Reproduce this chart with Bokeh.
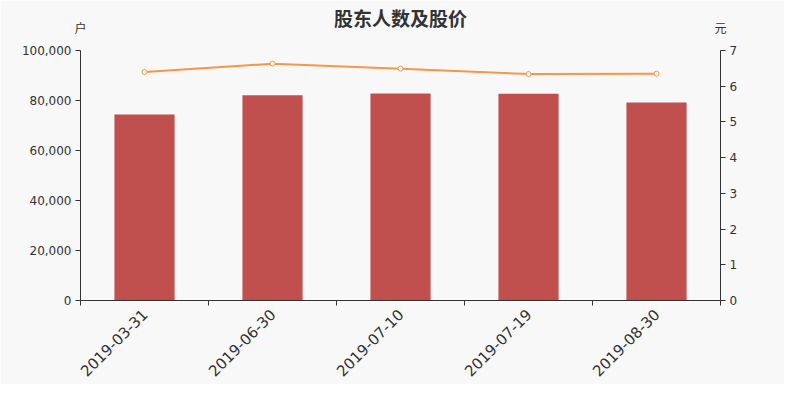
import math
from bokeh.plotting import figure
from bokeh.models import (Range1d, LinearAxis, FixedTicker, NumeralTickFormatter,
                          ColumnDataSource)
from bokeh.embed import file_html
from bokeh.resources import INLINE

dates = ["2019-03-31", "2019-06-30", "2019-07-10", "2019-07-19", "2019-08-30"]
holders = [74400, 82100, 82800, 82700, 79200]
prices = [6.40, 6.63, 6.49, 6.34, 6.35]

title_text = "股东人数及股价"
left_name = "户"
right_name = "元"

BG = "#f8f8f8"
AX = "#333333"
BAR = "#c0504d"
LINE = "#f79646"

xs = [i + 0.5 for i in range(len(dates))]
src = ColumnDataSource(dict(x=xs, holders=holders, prices=prices, date=dates))

p = figure(frame_width=640, frame_height=250, output_backend="svg", toolbar_location=None,
           x_range=Range1d(0, len(dates)), y_range=Range1d(0, 100000),
           min_border_left=80, min_border_right=64, min_border_top=50,
           min_border_bottom=84, background_fill_color=BG,
           border_fill_color=BG, x_axis_location=None, y_axis_location=None)
p.outline_line_color = None
p.grid.visible = False
p.extra_y_ranges = {"price": Range1d(0, 7)}

# top axis: axis names "户" / "元" at the ends, chart title as its label
names = LinearAxis(ticker=FixedTicker(ticks=[0, len(dates)]), axis_label=title_text)
names.major_label_overrides = {0: left_name, len(dates): right_name}
names.major_label_text_font = "Noto Sans CJK SC"
names.major_label_text_font_size = "12px"
names.major_label_text_color = AX
names.axis_line_color = None
names.major_tick_line_color = None
names.minor_tick_line_color = None
names.major_label_standoff = 9
names.axis_label_standoff = -15
names.axis_label_text_font = "Noto Sans CJK SC"
names.axis_label_text_font_size = "19px"
names.axis_label_text_font_style = "bold"
names.axis_label_text_color = AX
p.add_layout(names, "above")

# bottom axis: labels at centres, ticks at category boundaries (minor ticks)
xaxis = LinearAxis(ticker=FixedTicker(ticks=xs, minor_ticks=list(range(len(dates) + 1))))
xaxis.major_label_overrides = {x: d for x, d in zip(xs, dates)}
xaxis.major_label_orientation = math.pi / 4
xaxis.major_label_text_font_size = "15px"
xaxis.major_label_text_font = "DejaVu Sans"
xaxis.major_label_text_color = AX
xaxis.major_tick_out = 0
xaxis.major_tick_in = 0
xaxis.minor_tick_out = 5
xaxis.minor_tick_in = 0
xaxis.minor_tick_line_color = AX
xaxis.axis_line_color = AX
xaxis.major_label_standoff = 6
p.add_layout(xaxis, "below")

yaxis = LinearAxis(ticker=FixedTicker(ticks=[0, 20000, 40000, 60000, 80000, 100000]),
                   formatter=NumeralTickFormatter(format="0,0"))
yaxis.major_label_text_font_size = "12px"
yaxis.major_label_text_font = "DejaVu Sans"
yaxis.major_label_text_color = AX
yaxis.axis_line_color = AX
yaxis.major_tick_line_color = AX
yaxis.major_tick_out = 5
yaxis.major_tick_in = 0
yaxis.minor_tick_line_color = None
yaxis.major_label_standoff = 4
p.add_layout(yaxis, "left")

y2 = LinearAxis(y_range_name="price", ticker=FixedTicker(ticks=list(range(8))))
y2.major_label_text_font_size = "12px"
y2.major_label_text_font = "DejaVu Sans"
y2.major_label_text_color = AX
y2.axis_line_color = AX
y2.major_tick_line_color = AX
y2.major_tick_out = 5
y2.major_tick_in = 0
y2.minor_tick_line_color = None
y2.major_label_standoff = 4
p.add_layout(y2, "right")

p.vbar(x="x", top="holders", width=0.47, source=src, fill_color=BAR,
       line_color=None)
p.line(x="x", y="prices", source=src, y_range_name="price", line_color=LINE,
       line_width=2)
p.scatter(x="x", y="prices", source=src, y_range_name="price", size=5,
          fill_color="white", line_color=LINE, line_width=1)

open("out.html", "w").write(file_html(p, INLINE))
